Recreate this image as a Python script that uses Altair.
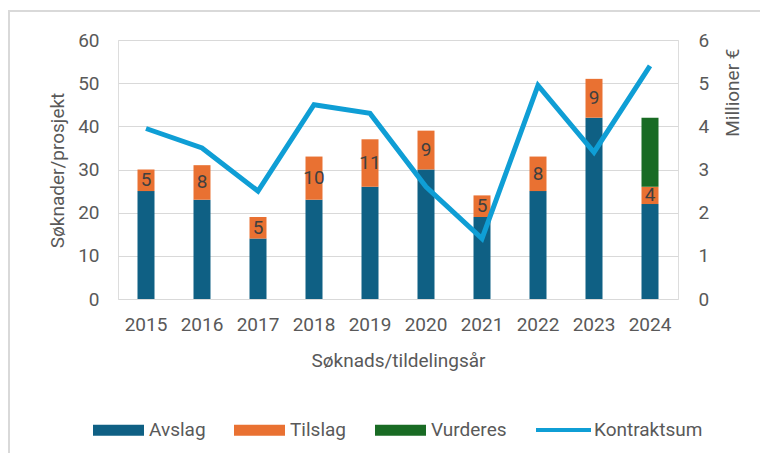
import altair as alt
import pandas as pd

# ---- data ----
years = ["2015", "2016", "2017", "2018", "2019", "2020", "2021", "2022", "2023", "2024"]
avslag = [25, 23, 14, 23, 26, 30, 19, 25, 42, 22]
tilslag = [5, 8, 5, 10, 11, 9, 5, 8, 9, 4]
vurderes = [0, 0, 0, 0, 0, 0, 0, 0, 0, 16]
kontraktsum = [3.95, 3.5, 2.5, 4.5, 4.3, 2.6, 1.4, 4.95, 3.4, 5.4]

categories = ["Avslag", "Tilslag", "Vurderes"]
cat_colors = ["#0F6084", "#E97132", "#196B24"]
line_name = "Kontraktsum"
line_color = "#0F9ED5"

left_ticks = [0, 10, 20, 30, 40, 50, 60]
right_ticks = [0, 1, 2, 3, 4, 5, 6]

# ---- tables ----
rows = []
for i, y in enumerate(years):
    for k, (cat, vals) in enumerate(zip(categories, [avslag, tilslag, vurderes])):
        rows.append({"year": y, "category": cat, "value": vals[i], "order": k})
bars_df = pd.DataFrame(rows)

text_df = pd.DataFrame({
    "year": years,
    "label": [str(v) for v in tilslag],
    "mid": [a + t / 2 for a, t in zip(avslag, tilslag)],
})

line_df = pd.DataFrame({"year": years, "kontraktsum": kontraktsum, "serie": [line_name] * len(years)})

FONT = "Roboto"
GREY = "#595959"

x_enc = alt.X(
    "year:N", sort=years,
    scale=alt.Scale(paddingInner=0, paddingOuter=0),
    axis=alt.Axis(title="Søknads/tildelingsår", labelAngle=0, ticks=False, domain=False,
                  labelPadding=16, labelFontSize=19, labelColor=GREY, labelFont=FONT,
                  titleFontSize=19, titleFont=FONT, titleColor=GREY, titleFontWeight="normal",
                  titleY=61, titleBaseline="middle"),
)

left_axis = alt.Axis(values=left_ticks, title="Søknader/prosjekt", grid=True, gridColor="#d9d9d9",
                     gridWidth=1.2, ticks=False, domain=False, labelPadding=19, labelFontSize=19,
                     labelColor=GREY, labelFont=FONT, titleFontSize=19, titleFont=FONT,
                     titleColor=GREY, titleFontWeight="normal", titleX=-61, titleY=130,
                     titleAngle=270, titleAlign="center", titleBaseline="middle")

border = alt.Chart(pd.DataFrame({"a": [0]})).mark_rect(
    fill="transparent", stroke="#d9d9d9", strokeWidth=2
).encode(x=alt.value(-109), x2=alt.value(800), y=alt.value(-29), y2=alt.value(600))

bars = alt.Chart(bars_df).mark_bar(size=17).encode(
    x=x_enc,
    y=alt.Y("value:Q", stack="zero", scale=alt.Scale(domain=[0, 60], nice=False), axis=left_axis),
    color=alt.Color("category:N", scale=alt.Scale(domain=categories, range=cat_colors),
                    legend=alt.Legend(orient="none", legendX=-25, legendY=364.5, direction="horizontal",
                                      title=None, symbolType="M-1,-0.2157H1V0.2157H-1Z",
                                      symbolSize=2601, symbolStrokeWidth=0, symbolOpacity=1,
                                      labelFontSize=19, labelColor=GREY, labelFont=FONT,
                                      labelOffset=5, columnPadding=9, gridAlign="all", padding=0)),
    order=alt.Order("order:Q"),
)

texts = alt.Chart(text_df).mark_text(fontSize=19, color="#404040", font=FONT, baseline="middle").encode(
    x=alt.X("year:N", sort=years),
    y=alt.Y("mid:Q", title="Søknader/prosjekt"),
    text="label:N",
)

left_layer = alt.layer(border, bars, texts)

line = alt.Chart(line_df).mark_line(strokeWidth=5).encode(
    x=alt.X("year:N", sort=years),
    y=alt.Y("kontraktsum:Q", scale=alt.Scale(domain=[0, 6], nice=False),
            axis=alt.Axis(orient="right", values=right_ticks, title="Millioner €", grid=False,
                          ticks=False, domain=False, labelPadding=20, labelFontSize=19,
                          labelColor=GREY, labelFont=FONT, titleFontSize=19, titleFont=FONT,
                          titleColor=GREY, titleFontWeight="normal", titleX=54, titleY=8,
                          titleAngle=270, titleAlign="right", titleBaseline="middle")),
    stroke=alt.Stroke("serie:N", scale=alt.Scale(domain=[line_name], range=[line_color]),
                      legend=alt.Legend(orient="none", legendX=416, legendY=360.5, direction="horizontal",
                                        title=None, symbolType="stroke", symbolSize=3025,
                                        symbolStrokeWidth=4, labelFontSize=19, labelColor=GREY,
                                        labelFont=FONT, labelOffset=1, padding=0)),
)

chart = alt.layer(left_layer, line).resolve_scale(y="independent").properties(
    width=560, height=259,
    autosize=alt.AutoSizeParams(type="none"),
    padding={"left": 110, "top": 32, "right": 82, "bottom": 154},
).configure_view(stroke=None).configure(background="white")

chart.save("out.html", embed_options={"renderer": "svg", "actions": False})
